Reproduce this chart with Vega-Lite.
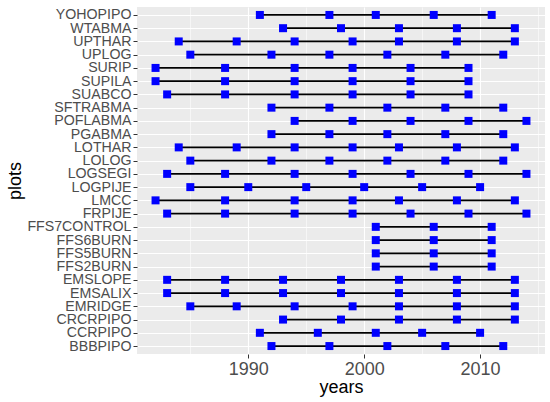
{
  "$schema": "https://vega.github.io/schema/vega-lite/v6.json",
  "width": 408,
  "height": 347,
  "autosize": {"type": "none"},
  "padding": {"left": 137, "top": 7, "right": 5, "bottom": 48},
  "background": "white",
  "data": {
    "values": [
      {"plots": "YOHOPIPO", "years": 1991}, {"plots": "YOHOPIPO", "years": 1997}, {"plots": "YOHOPIPO", "years": 2001}, {"plots": "YOHOPIPO", "years": 2006}, {"plots": "YOHOPIPO", "years": 2011},
      {"plots": "WTABMA", "years": 1993}, {"plots": "WTABMA", "years": 1998}, {"plots": "WTABMA", "years": 2003}, {"plots": "WTABMA", "years": 2008}, {"plots": "WTABMA", "years": 2013},
      {"plots": "UPTHAR", "years": 1984}, {"plots": "UPTHAR", "years": 1989}, {"plots": "UPTHAR", "years": 1994}, {"plots": "UPTHAR", "years": 1999}, {"plots": "UPTHAR", "years": 2003}, {"plots": "UPTHAR", "years": 2008}, {"plots": "UPTHAR", "years": 2013},
      {"plots": "UPLOG", "years": 1985}, {"plots": "UPLOG", "years": 1992}, {"plots": "UPLOG", "years": 1997}, {"plots": "UPLOG", "years": 2002}, {"plots": "UPLOG", "years": 2007}, {"plots": "UPLOG", "years": 2012},
      {"plots": "SURIP", "years": 1982}, {"plots": "SURIP", "years": 1988}, {"plots": "SURIP", "years": 1994}, {"plots": "SURIP", "years": 1999}, {"plots": "SURIP", "years": 2004}, {"plots": "SURIP", "years": 2009},
      {"plots": "SUPILA", "years": 1982}, {"plots": "SUPILA", "years": 1988}, {"plots": "SUPILA", "years": 1994}, {"plots": "SUPILA", "years": 1999}, {"plots": "SUPILA", "years": 2004}, {"plots": "SUPILA", "years": 2009},
      {"plots": "SUABCO", "years": 1983}, {"plots": "SUABCO", "years": 1988}, {"plots": "SUABCO", "years": 1994}, {"plots": "SUABCO", "years": 1999}, {"plots": "SUABCO", "years": 2004}, {"plots": "SUABCO", "years": 2009},
      {"plots": "SFTRABMA", "years": 1992}, {"plots": "SFTRABMA", "years": 1997}, {"plots": "SFTRABMA", "years": 2002}, {"plots": "SFTRABMA", "years": 2007}, {"plots": "SFTRABMA", "years": 2012},
      {"plots": "POFLABMA", "years": 1994}, {"plots": "POFLABMA", "years": 1999}, {"plots": "POFLABMA", "years": 2004}, {"plots": "POFLABMA", "years": 2009}, {"plots": "POFLABMA", "years": 2014},
      {"plots": "PGABMA", "years": 1992}, {"plots": "PGABMA", "years": 1997}, {"plots": "PGABMA", "years": 2002}, {"plots": "PGABMA", "years": 2007}, {"plots": "PGABMA", "years": 2012},
      {"plots": "LOTHAR", "years": 1984}, {"plots": "LOTHAR", "years": 1989}, {"plots": "LOTHAR", "years": 1994}, {"plots": "LOTHAR", "years": 1999}, {"plots": "LOTHAR", "years": 2003}, {"plots": "LOTHAR", "years": 2008}, {"plots": "LOTHAR", "years": 2013},
      {"plots": "LOLOG", "years": 1985}, {"plots": "LOLOG", "years": 1992}, {"plots": "LOLOG", "years": 1997}, {"plots": "LOLOG", "years": 2002}, {"plots": "LOLOG", "years": 2007}, {"plots": "LOLOG", "years": 2012},
      {"plots": "LOGSEGI", "years": 1983}, {"plots": "LOGSEGI", "years": 1988}, {"plots": "LOGSEGI", "years": 1994}, {"plots": "LOGSEGI", "years": 1999}, {"plots": "LOGSEGI", "years": 2004}, {"plots": "LOGSEGI", "years": 2009}, {"plots": "LOGSEGI", "years": 2014},
      {"plots": "LOGPIJE", "years": 1985}, {"plots": "LOGPIJE", "years": 1990}, {"plots": "LOGPIJE", "years": 1995}, {"plots": "LOGPIJE", "years": 2000}, {"plots": "LOGPIJE", "years": 2005}, {"plots": "LOGPIJE", "years": 2010},
      {"plots": "LMCC", "years": 1982}, {"plots": "LMCC", "years": 1988}, {"plots": "LMCC", "years": 1994}, {"plots": "LMCC", "years": 1999}, {"plots": "LMCC", "years": 2003}, {"plots": "LMCC", "years": 2008}, {"plots": "LMCC", "years": 2013},
      {"plots": "FRPIJE", "years": 1983}, {"plots": "FRPIJE", "years": 1988}, {"plots": "FRPIJE", "years": 1994}, {"plots": "FRPIJE", "years": 1999}, {"plots": "FRPIJE", "years": 2004}, {"plots": "FRPIJE", "years": 2009}, {"plots": "FRPIJE", "years": 2014},
      {"plots": "FFS7CONTROL", "years": 2001}, {"plots": "FFS7CONTROL", "years": 2006}, {"plots": "FFS7CONTROL", "years": 2011},
      {"plots": "FFS6BURN", "years": 2001}, {"plots": "FFS6BURN", "years": 2006}, {"plots": "FFS6BURN", "years": 2011},
      {"plots": "FFS5BURN", "years": 2001}, {"plots": "FFS5BURN", "years": 2006}, {"plots": "FFS5BURN", "years": 2011},
      {"plots": "FFS2BURN", "years": 2001}, {"plots": "FFS2BURN", "years": 2006}, {"plots": "FFS2BURN", "years": 2011},
      {"plots": "EMSLOPE", "years": 1983}, {"plots": "EMSLOPE", "years": 1988}, {"plots": "EMSLOPE", "years": 1993}, {"plots": "EMSLOPE", "years": 1998}, {"plots": "EMSLOPE", "years": 2003}, {"plots": "EMSLOPE", "years": 2008}, {"plots": "EMSLOPE", "years": 2013},
      {"plots": "EMSALIX", "years": 1983}, {"plots": "EMSALIX", "years": 1988}, {"plots": "EMSALIX", "years": 1993}, {"plots": "EMSALIX", "years": 1998}, {"plots": "EMSALIX", "years": 2003}, {"plots": "EMSALIX", "years": 2008}, {"plots": "EMSALIX", "years": 2013},
      {"plots": "EMRIDGE", "years": 1985}, {"plots": "EMRIDGE", "years": 1989}, {"plots": "EMRIDGE", "years": 1994}, {"plots": "EMRIDGE", "years": 1999}, {"plots": "EMRIDGE", "years": 2003}, {"plots": "EMRIDGE", "years": 2008}, {"plots": "EMRIDGE", "years": 2013},
      {"plots": "CRCRPIPO", "years": 1993}, {"plots": "CRCRPIPO", "years": 1998}, {"plots": "CRCRPIPO", "years": 2003}, {"plots": "CRCRPIPO", "years": 2008}, {"plots": "CRCRPIPO", "years": 2013},
      {"plots": "CCRPIPO", "years": 1991}, {"plots": "CCRPIPO", "years": 1996}, {"plots": "CCRPIPO", "years": 2001}, {"plots": "CCRPIPO", "years": 2005}, {"plots": "CCRPIPO", "years": 2010},
      {"plots": "BBBPIPO", "years": 1992}, {"plots": "BBBPIPO", "years": 1997}, {"plots": "BBBPIPO", "years": 2002}, {"plots": "BBBPIPO", "years": 2007}, {"plots": "BBBPIPO", "years": 2012}
    ]
  },
  "encoding": {
    "y": {
      "field": "plots",
      "type": "nominal",
      "sort": "descending",
      "scale": {"type": "point", "padding": 0.6},
      "axis": {
        "title": "plots",
        "domain": false,
        "grid": true,
        "gridColor": "white",
        "gridWidth": 1.1,
        "tickSize": 4,
        "tickColor": "#333333",
        "labelPadding": 2,
        "labelFontSize": 14.2,
        "labelColor": "#4D4D4D",
        "titleFontSize": 18,
        "titlePadding": 2
      }
    }
  },
  "layer": [
    {
      "mark": {"type": "line", "color": "black", "strokeWidth": 1.7},
      "encoding": {
        "x": {
          "field": "years",
          "type": "quantitative",
          "scale": {"domain": [1980.4, 2015.6], "nice": false, "zero": false},
          "axis": {
            "title": "years",
            "values": [1990, 2000, 2010],
            "format": "d",
            "domain": false,
            "grid": true,
            "gridColor": "white",
            "gridWidth": 1.1,
            "tickSize": 4,
            "tickColor": "#333333",
            "labelPadding": 2,
            "labelFontSize": 18,
            "labelColor": "#4D4D4D",
            "titleFontSize": 18,
            "titlePadding": 0
          }
        },
        "detail": {"field": "plots"}
      }
    },
    {
      "mark": {"type": "point", "shape": "square", "filled": true, "color": "#0000FF", "size": 64, "opacity": 1},
      "encoding": {
        "x": {
          "field": "years",
          "type": "quantitative",
          "scale": {"domain": [1980.4, 2015.6], "nice": false, "zero": false},
          "axis": {
            "orient": "top",
            "title": null,
            "values": [1985, 1995, 2005, 2015],
            "labels": false,
            "ticks": false,
            "domain": false,
            "grid": true,
            "gridColor": "white",
            "gridWidth": 0.55
          }
        }
      }
    }
  ],
  "resolve": {"axis": {"x": "independent"}},
  "config": {
    "view": {"fill": "#EBEBEB", "stroke": null},
    "font": "Liberation Sans",
    "axis": {
      "labelFont": "Liberation Sans",
      "titleFont": "Liberation Sans",
      "titleFontWeight": "normal",
      "titleColor": "black"
    }
  }
}
